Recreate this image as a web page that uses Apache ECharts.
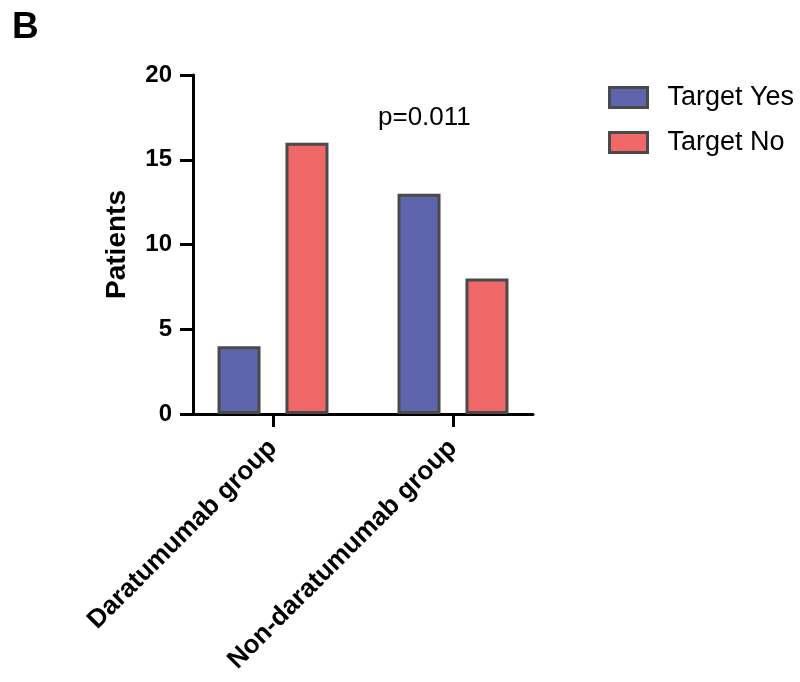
<!DOCTYPE html>
<html>
<head>
<meta charset="utf-8">
<script src="https://cdn.jsdelivr.net/npm/echarts@6/dist/echarts.min.js"></script>
<style>html,body{margin:0;padding:0;background:#fff}#c{width:800px;height:682px}</style>
</head>
<body>
<div id="c"></div>
<script>
const categories = ['Daratumumab group', 'Non-daratumumab group'];
const targetYes = [4, 13];
const targetNo = [16, 8];
const yTicks = { min: 0, max: 20, interval: 5 };
const seriesNames = ['Target Yes', 'Target No'];
const pText = 'p=0.011';

const FONT = "'Liberation Sans', Arial, Helvetica, sans-serif";
const chart = echarts.init(document.getElementById('c'), null, { renderer: 'canvas' });
const axisColor = '#000';
const border = '#4a4a4a';

chart.setOption({
  backgroundColor: '#fff',
  animation: false,
  textStyle: { fontFamily: FONT },
  title: {
    text: 'B', left: 7, top: 4, padding: 5,
    textStyle: { fontFamily: FONT, fontSize: 37, fontWeight: 'bold', color: '#000' }
  },
  legend: {
    data: seriesNames,
    orient: 'vertical',
    left: 608, top: 84, padding: 0,
    icon: 'rect',
    itemWidth: 38, itemHeight: 20, itemGap: 18,
    itemStyle: { borderColor: border, borderWidth: 3 },
    textStyle: { fontFamily: FONT, fontSize: 27, color: '#000', padding: [0, 0, 0, 15] }
  },
  graphic: [{
    type: 'text', left: 378, top: 105,
    style: { text: pText, font: "26px 'Liberation Sans', Arial, sans-serif", fill: '#000' }
  }],
  grid: [
    { left: 183, width: 360, top: 75, bottom: 268 },
    { left: 193, width: 340, top: 75, bottom: 268 }
  ],
  xAxis: [
    {
      type: 'category', gridIndex: 0, data: categories,
      axisLine: { show: false },
      axisTick: { show: true, alignWithLabel: true, length: 13, lineStyle: { width: 3, color: axisColor } },
      axisLabel: { rotate: 45, margin: 30, fontFamily: FONT, fontSize: 26, fontWeight: 'bold', color: '#000' },
      splitLine: { show: false }
    },
    {
      type: 'value', gridIndex: 1, min: 0, max: 1,
      axisLine: { show: true, lineStyle: { width: 3, color: axisColor } },
      axisTick: { show: false }, axisLabel: { show: false }, splitLine: { show: false }
    }
  ],
  yAxis: [
    {
      type: 'value', gridIndex: 0, min: yTicks.min, max: yTicks.max, interval: yTicks.interval,
      show: false, splitLine: { show: false }
    },
    {
      type: 'value', gridIndex: 1, min: yTicks.min, max: yTicks.max, interval: yTicks.interval,
      name: 'Patients', nameLocation: 'middle', nameGap: 62,
      nameTextStyle: { fontFamily: FONT, fontSize: 28, fontWeight: 'bold', color: '#000' },
      axisLine: { show: true, lineStyle: { width: 3, color: axisColor } },
      axisTick: { show: true, length: 13, lineStyle: { width: 3, color: axisColor } },
      axisLabel: { margin: 21, fontFamily: FONT, fontSize: 24, fontWeight: 'bold', color: '#000' },
      splitLine: { show: false }
    }
  ],
  series: [
    {
      name: seriesNames[0], type: 'bar', xAxisIndex: 0, yAxisIndex: 0, data: targetYes,
      barWidth: 43, barGap: '58%',
      itemStyle: { color: '#5F65AD', borderColor: border, borderWidth: 3 }
    },
    {
      name: seriesNames[1], type: 'bar', xAxisIndex: 0, yAxisIndex: 0, data: targetNo,
      barWidth: 43, barGap: '58%',
      itemStyle: { color: '#EF6767', borderColor: border, borderWidth: 3 }
    }
  ]
});
</script>
</body>
</html>
